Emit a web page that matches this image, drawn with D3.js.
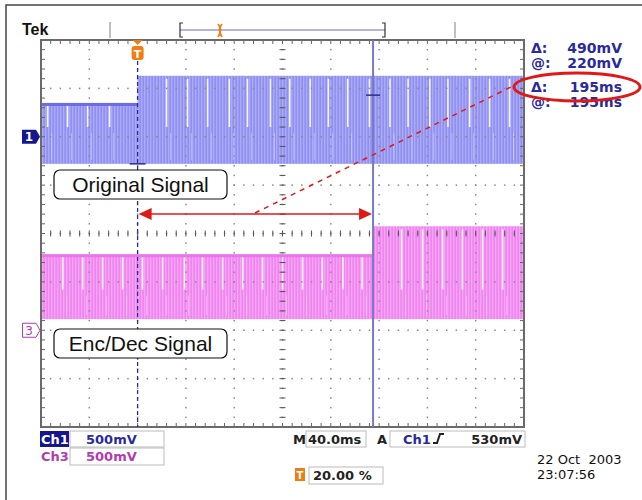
<!DOCTYPE html>
<html>
<head>
<meta charset="utf-8">
<script src="https://cdn.jsdelivr.net/npm/d3@7"></script>
<style>
  html, body { margin: 0; padding: 0; background: #fff; }
  svg { display: block; }
</style>
</head>
<body>
<div id="chart"></div>
<script>
// ---------------------------------------------------------------------------
// Tek scope capture — Ch1 original vs Ch3 enc/dec, 40 ms/div, trigger at 20 %
// ---------------------------------------------------------------------------

// time axis (ms relative to trigger), 10 divisions at 40 ms/div
const timeDomain = [-80, 320];
const divDomain = [-4, 4];
const voltsPerDiv = 500; // mV

// channel offsets in divisions
const ch1Offset = 2;
const ch3Offset = -2;

// Ch1 envelope: step at trigger
const ch1StepTimes = [-80, 0, 320];
const ch1High = [350, 630];   // mV
const ch1Low = [-280, -280];  // mV
const ch1GapLow = 100;        // mV, where the white dropouts end
const ch1Gaps = [-74.5, -58, -41.4, -23.2, 24, 41.4, 58, 76, 91, 110, 126, 143, 158,
  174, 192, 209, 224, 242, 257, 275, 291.5, 308];

// Ch3 envelope: step at cursor
const ch3StepTimes = [-80, 195, 320];
const ch3High = [785, 1075];
const ch3Low = [115, 115];
const ch3GapLow = 420;
const ch3Gaps = [-62, -45.5, -29, -12.4, 4.1, 20.7, 38.9, 53.8, 70.4, 87, 103.5, 120,
  136.6, 153, 170, 186, 218.6, 236, 252.6, 269, 285.7, 302.3];

// cursors / readouts
const cursorTime = 195;
const cursorMarkMv = 430;
const readoutLabels = ['\u0394:', '@:', '\u0394:', '@:'];
const readoutValues = ['490mV', '220mV', '195ms', '195ms'];
const dateLines = ['22 Oct  2003', '23:07:56'];

const W = 642, H = 500;
const svg = d3.select('#chart').append('svg').attr('width', W).attr('height', H);

const x = d3.scaleLinear().domain(timeDomain).range([41, 524]);
const y = d3.scaleLinear().domain(divDomain).range([427, 40]);
const ch1Y = (mv) => y(ch1Offset + mv / voltsPerDiv);
const ch3Y = (mv) => y(ch3Offset + mv / voltsPerDiv);

// textures
const defs = svg.append('defs');
function stripes(id, base, light, dark) {
  const p = defs.append('pattern').attr('id', id).attr('patternUnits', 'userSpaceOnUse')
    .attr('width', 3).attr('height', 40);
  p.append('rect').attr('width', 3).attr('height', 40).attr('fill', base);
  p.append('rect').attr('x', 0).attr('width', 1).attr('height', 40).attr('fill', light);
  p.append('rect').attr('x', 2).attr('width', 1).attr('height', 40).attr('fill', dark);
}
stripes('ch1tex', '#9a9af3', '#aaaaf6', '#9090f1');
stripes('ch3tex', '#f290f2', '#f5a4f5', '#ef86ef');

// outer frame
svg.append('path').attr('d', `M6,${H + 2} V5 H${W + 2}`)
  .attr('fill', 'none').attr('stroke', '#444').attr('stroke-width', 1.5);

// ---- traces (under graticule dots) ----
function drawTrace(cls, steps, hi, lo, gaps, gapLow, chY, tex, edge) {
  const g = svg.append('g').attr('class', cls);
  const segs = d3.range(hi.length).map((i) => ({ t0: steps[i], t1: steps[i + 1], hi: hi[i], lo: lo[i] }));
  g.selectAll('rect.env').data(segs).join('rect').attr('class', 'env')
    .attr('x', (d) => x(d.t0)).attr('width', (d) => x(d.t1) - x(d.t0))
    .attr('y', (d) => chY(d.hi)).attr('height', (d) => chY(d.lo) - chY(d.hi))
    .attr('fill', `url(#${tex})`);
  // the lower level shows a denser top band
  g.selectAll('line.edge').data(segs.slice(0, 1)).join('line').attr('class', 'edge')
    .attr('x1', (d) => x(d.t0)).attr('x2', (d) => x(d.t1))
    .attr('y1', (d) => chY(d.hi) + 1.5).attr('y2', (d) => chY(d.hi) + 1.5)
    .attr('stroke', edge).attr('stroke-width', 3).attr('opacity', 0.85);
  const segAt = (t) => segs.find((s) => t >= s.t0 && t < s.t1);
  g.selectAll('line.gap').data(gaps).join('line').attr('class', 'gap')
    .attr('x1', (d) => x(d)).attr('x2', (d) => x(d))
    .attr('y1', (d) => chY(segAt(d).hi) + 3).attr('y2', chY(gapLow))
    .attr('stroke', '#fff').attr('stroke-width', 1.6).attr('opacity', 0.9);
  g.selectAll('line.gap2').data(gaps).join('line').attr('class', 'gap2')
    .attr('x1', (d) => x(d) + 4).attr('x2', (d) => x(d) + 4)
    .attr('y1', chY(gapLow) + 6).attr('y2', (d) => chY(segAt(d).lo) - 4)
    .attr('stroke', '#fff').attr('stroke-width', 1).attr('opacity', 0.35);
}
drawTrace('ch1', ch1StepTimes, ch1High, ch1Low, ch1Gaps, ch1GapLow, ch1Y, 'ch1tex', '#6464e6');
drawTrace('ch3', ch3StepTimes, ch3High, ch3Low, ch3Gaps, ch3GapLow, ch3Y, 'ch3tex', '#e872e8');

// ---- graticule ----
const grat = svg.append('g').attr('class', 'graticule');
const minorT = d3.range(-80, 320.01, 8);
const minorV = d3.range(-4, 4.001, 0.2);
const majorT = d3.range(-40, 320, 40);
const majorV = d3.range(-3, 4, 1);
const dotCol = '#8a8a8a';
// dotted grid lines
majorT.forEach((t) => {
  grat.selectAll(null).data(minorV.slice(1, -1)).join('rect')
    .attr('x', x(t) - 0.75).attr('y', (v) => y(v) - 0.75).attr('width', 1.5).attr('height', 1.5)
    .attr('fill', dotCol);
});
majorV.forEach((v) => {
  grat.selectAll(null).data(minorT.slice(1, -1)).join('rect')
    .attr('x', (t) => x(t) - 0.75).attr('y', y(v) - 0.75).attr('width', 1.5).attr('height', 1.5)
    .attr('fill', dotCol);
});
// center cross ticks
grat.selectAll(null).data(minorT).join('line')
  .attr('x1', (t) => x(t)).attr('x2', (t) => x(t)).attr('y1', y(0) - 3).attr('y2', y(0) + 3)
  .attr('stroke', '#555').attr('stroke-width', 1);
grat.selectAll(null).data(minorV).join('line')
  .attr('y1', (v) => y(v)).attr('y2', (v) => y(v)).attr('x1', x(120) - 3).attr('x2', x(120) + 3)
  .attr('stroke', '#555').attr('stroke-width', 1);
// edge ticks
grat.selectAll(null).data(minorT).join('line')
  .attr('x1', (t) => x(t)).attr('x2', (t) => x(t)).attr('y1', y(4)).attr('y2', y(4) + 4)
  .attr('stroke', '#666');
grat.selectAll(null).data(minorT).join('line')
  .attr('x1', (t) => x(t)).attr('x2', (t) => x(t)).attr('y1', y(-4)).attr('y2', y(-4) - 4)
  .attr('stroke', '#666');
grat.selectAll(null).data(minorV).join('line')
  .attr('y1', (v) => y(v)).attr('y2', (v) => y(v)).attr('x1', x(-80)).attr('x2', x(-80) + 4)
  .attr('stroke', '#666');
grat.selectAll(null).data(minorV).join('line')
  .attr('y1', (v) => y(v)).attr('y2', (v) => y(v)).attr('x1', x(320)).attr('x2', x(320) - 4)
  .attr('stroke', '#666');
grat.append('rect').attr('x', x(-80)).attr('y', y(4)).attr('width', x(320) - x(-80))
  .attr('height', y(-4) - y(4)).attr('fill', 'none').attr('stroke', '#6a6a6a').attr('stroke-width', 2);

// trigger position (dashed) and time cursor
svg.append('line').attr('x1', x(0)).attr('x2', x(0)).attr('y1', y(4)).attr('y2', y(-4))
  .attr('stroke', '#2b2ba5').attr('stroke-width', 1.3).attr('stroke-dasharray', '4,3');
svg.append('line').attr('x1', x(cursorTime)).attr('x2', x(cursorTime)).attr('y1', y(4)).attr('y2', y(-4))
  .attr('stroke', '#7878c8').attr('stroke-width', 2);
svg.append('line').attr('x1', x(cursorTime) - 7).attr('x2', x(cursorTime) + 7)
  .attr('y1', ch1Y(cursorMarkMv)).attr('y2', ch1Y(cursorMarkMv))
  .attr('stroke', '#2b2b8f').attr('stroke-width', 1.5);
svg.append('line').attr('x1', x(0) - 8).attr('x2', x(0) + 8)
  .attr('y1', ch1Y(-280)).attr('y2', ch1Y(-280))
  .attr('stroke', '#2b2b8f').attr('stroke-width', 1.5);

// trigger marker (top)
const orange = '#f07c14';
svg.append('path').attr('d', `M${x(0) - 5},${y(4)} L${x(0) + 5},${y(4)} L${x(0)},${y(4) + 5}Z`).attr('fill', orange);
svg.append('rect').attr('x', x(0) - 6).attr('y', y(4) + 6).attr('width', 12).attr('height', 14)
  .attr('rx', 3).attr('fill', orange);
svg.append('text').attr('x', x(0)).attr('y', y(4) + 17.5).attr('text-anchor', 'middle')
  .attr('font-family', 'DejaVu Sans').attr('font-weight', 'bold').attr('font-size', 11)
  .attr('fill', '#fff').text('T');

// channel ground markers
const ch1Blue = '#16168f';
svg.append('path').attr('d', `M22,${ch1Y(0) - 7} H36 L40,${ch1Y(0)} L36,${ch1Y(0) + 7} H22Z`).attr('fill', ch1Blue);
svg.append('text').attr('x', 29).attr('y', ch1Y(0) + 4.5).attr('text-anchor', 'middle')
  .attr('font-family', 'DejaVu Sans').attr('font-weight', 'bold').attr('font-size', 12)
  .attr('fill', '#fff').text('1');
const ch3Mag = '#b03cb0';
svg.append('path').attr('d', `M22.5,${ch3Y(0) - 7} H36 L40,${ch3Y(0)} L36,${ch3Y(0) + 7} H22.5Z`)
  .attr('fill', '#fff').attr('stroke', ch3Mag).attr('stroke-width', 1);
svg.append('text').attr('x', 29).attr('y', ch3Y(0) + 4.5).attr('text-anchor', 'middle')
  .attr('font-family', 'DejaVu Sans').attr('font-size', 12)
  .attr('fill', ch3Mag).text('3');

// ---- annotations ----
const red = '#e01818';
svg.append('line').attr('x1', 255).attr('y1', 213).attr('x2', 517).attr('y2', 84)
  .attr('stroke', red).attr('stroke-width', 1.5).attr('stroke-dasharray', '5,5');
const ay = 214;
svg.append('line').attr('x1', x(0) + 12).attr('x2', x(cursorTime) - 12).attr('y1', ay).attr('y2', ay)
  .attr('stroke', red).attr('stroke-width', 1.5);
svg.append('path').attr('d', `M${x(0) + 1},${ay} L${x(0) + 14},${ay - 6} L${x(0) + 14},${ay + 6}Z`).attr('fill', red);
svg.append('path').attr('d', `M${x(cursorTime) - 1},${ay} L${x(cursorTime) - 14},${ay - 6} L${x(cursorTime) - 14},${ay + 6}Z`).attr('fill', red);

function labelBox(text, top) {
  svg.append('rect').attr('x', 54).attr('y', top).attr('width', 173).attr('height', 29).attr('rx', 6)
    .attr('fill', '#fff').attr('stroke', '#111').attr('stroke-width', 1.2);
  svg.append('text').attr('x', 140.5).attr('y', top + 22).attr('text-anchor', 'middle')
    .attr('font-family', 'Liberation Sans, Arial, sans-serif').attr('font-size', 21)
    .attr('fill', '#111').text(text);
}
labelBox('Original Signal', 170);
labelBox('Enc/Dec Signal', 329);

// ---- top bar ----
svg.append('text').attr('x', 22).attr('y', 35).attr('font-family', 'Liberation Sans, Arial')
  .attr('font-weight', 'bold').attr('font-size', 16).attr('fill', '#111').text('Tek');
[110, 455].forEach((tx) => svg.append('line').attr('x1', tx).attr('x2', tx).attr('y1', 22).attr('y2', 38)
  .attr('stroke', '#aaa').attr('stroke-width', 1.5));
svg.append('line').attr('x1', 180).attr('x2', 385).attr('y1', 30).attr('y2', 30)
  .attr('stroke', '#6a6ac0').attr('stroke-width', 1.2);
svg.append('path').attr('d', 'M183,23 H180 V37 H183 M382,23 H385 V37 H382')
  .attr('fill', 'none').attr('stroke', '#333').attr('stroke-width', 1.2);
svg.append('path').attr('d', 'M218,24 Q223,30 218,37 M222,24 Q217,30 222,37')
  .attr('fill', 'none').attr('stroke', orange).attr('stroke-width', 1.8);

// ---- cursor readouts ----
const readBlue = '#2a2a9c';
const ry = [53, 68, 92, 107];
readoutLabels.forEach((l, i) => {
  svg.append('text').attr('x', 531).attr('y', ry[i]).attr('font-family', 'DejaVu Sans')
    .attr('font-weight', 'bold').attr('font-size', 14).attr('fill', readBlue).text(l);
  svg.append('text').attr('x', 622).attr('y', ry[i]).attr('text-anchor', 'end').attr('font-family', 'DejaVu Sans')
    .attr('font-weight', 'bold').attr('font-size', 14).attr('fill', readBlue).text(readoutValues[i]);
});
svg.append('ellipse').attr('cx', 577).attr('cy', 87).attr('rx', 63).attr('ry', 14)
  .attr('fill', 'none').attr('stroke', red).attr('stroke-width', 3);

// ---- bottom status ----
const font = { family: 'DejaVu Sans', size: 13 };
function txt(s, tx, ty, col, anchor) {
  return svg.append('text').attr('x', tx).attr('y', ty).attr('font-family', font.family)
    .attr('font-weight', 'bold').attr('font-size', font.size).attr('fill', col)
    .attr('text-anchor', anchor || 'start').text(s);
}
function box(bx, by, bw, bh) {
  svg.append('rect').attr('x', bx).attr('y', by).attr('width', bw).attr('height', bh)
    .attr('fill', 'none').attr('stroke', '#bbb').attr('stroke-width', 1);
}
svg.append('rect').attr('x', 40).attr('y', 431).attr('width', 29).attr('height', 16).attr('fill', ch1Blue);
txt('Ch1', 41, 444, '#fff');
box(70, 431, 94, 16);
txt('500mV', 86, 444, readBlue);
txt('Ch3', 41, 461, ch3Mag);
box(70, 448, 94, 17);
txt('500mV', 86, 461, ch3Mag);

txt('M', 293, 444, '#222');
box(306, 431, 60, 16);
txt('40.0ms', 308, 444, '#222');
txt('A', 377, 444, '#222');
box(390, 431, 135, 16);
txt('Ch1', 403, 444, readBlue);
svg.append('path').attr('d', 'M433,443 L437,443 L440,434 L444,434')
  .attr('fill', 'none').attr('stroke', '#222').attr('stroke-width', 2);
txt('530mV', 522, 444, '#222', 'end');

svg.append('rect').attr('x', 295).attr('y', 468).attr('width', 10).attr('height', 13).attr('fill', orange);
svg.append('text').attr('x', 300).attr('y', 479).attr('text-anchor', 'middle').attr('font-family', 'DejaVu Sans')
  .attr('font-weight', 'bold').attr('font-size', 10).attr('fill', '#fff').text('T');
box(309, 467, 74, 17);
txt('20.00 %', 313, 480, '#222');

dateLines.forEach((s, i) => {
  svg.append('text').attr('x', 537).attr('y', 464 + i * 15).attr('font-family', 'DejaVu Sans')
    .attr('font-size', 13).attr('fill', '#111').style('white-space', 'pre').text(s);
});
</script>
</body>
</html>
